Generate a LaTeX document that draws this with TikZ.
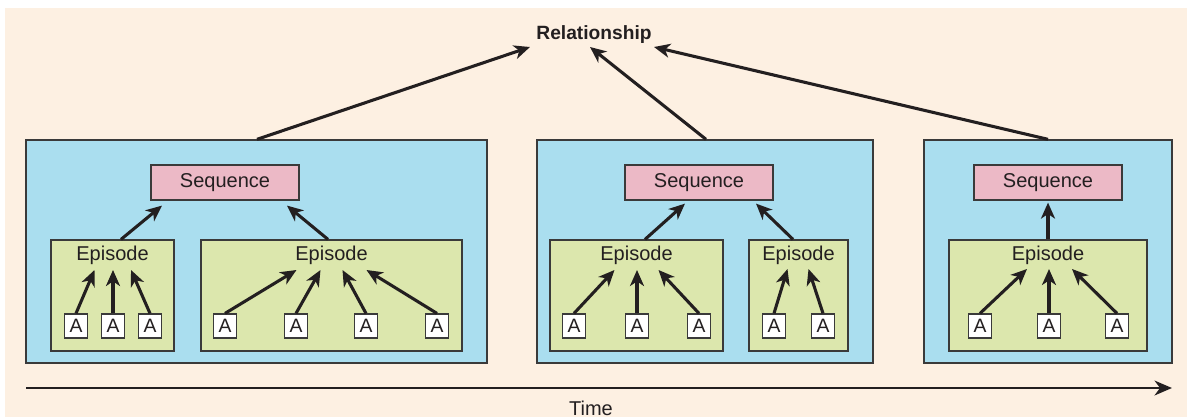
\documentclass[tikz,border=0pt]{standalone}
\usepackage{fontspec}
\setmainfont{Liberation Sans}
\usetikzlibrary{arrows.meta,calc}
\definecolor{cream}{HTML}{FDF0E2}
\definecolor{skyfill}{HTML}{AADEEF}
\definecolor{pinkfill}{HTML}{ECB9C6}
\definecolor{greenfill}{HTML}{DCE7AD}
\definecolor{ink}{HTML}{231F20}
\definecolor{edge}{HTML}{3A3A3A}
\def\u{0.75pt}
\tikzset{
  txt/.style={font=\fontsize{15}{18}\selectfont, text=ink, inner sep=0pt},
  levelbox/.style={draw=edge, line width=1pt, fill=skyfill, inner sep=0pt, minimum height=223*\u},
  seqbox/.style={draw=edge, line width=0.9pt, fill=pinkfill, inner sep=0pt, minimum width=148*\u, minimum height=35*\u, txt},
  epbox/.style={draw=edge, line width=0.9pt, fill=greenfill, inner sep=0pt, minimum height=111*\u},
  abox/.style={draw=edge, line width=0.9pt, fill=white, inner sep=0pt, minimum width=23*\u, minimum height=24*\u, txt, font=\fontsize{14.5}{16}\selectfont},
  arr/.style={draw=ink, line width=2.3pt, -{Stealth[length=12pt,width=10.5pt,inset=3.5pt]}},
}
\begin{document}
\begin{tikzpicture}[x=0.75pt,y=-0.75pt]
\useasboundingbox (0,0) rectangle (1187,417);
\fill[cream] (5,8) rectangle (1187,417);

% top level
\node[txt, font=\bfseries\fontsize{14.4}{17}\selectfont] (rel) at (594,35) {Relationship};

% three sequence panels
\node[levelbox, minimum width=461*\u] (p1) at (256.5,251.5) {};
\node[levelbox, minimum width=336*\u] (p2) at (705,251.5) {};
\node[levelbox, minimum width=248*\u] (p3) at (1048,251.5) {};

\node[seqbox] (s1) at (225,182.5) {Sequence};
\node[seqbox] (s2) at (699,182.5) {Sequence};
\node[seqbox] (s3) at (1048,182.5) {Sequence};

% episode boxes and their labels
\node[epbox, minimum width=123*\u] (e1a) at (112.5,295.5) {};
\node[epbox, minimum width=261*\u] (e1b) at (331.5,295.5) {};
\node[epbox, minimum width=173*\u] (e2a) at (636.5,295.5) {};
\node[epbox, minimum width=99*\u]  (e2b) at (798.5,295.5) {};
\node[epbox, minimum width=198*\u] (e3)  at (1048,295.5) {};

\node[txt] (l1a) at (112.5,255) {Episode};
\node[txt] (l1b) at (331.5,255) {Episode};
\node[txt] (l2a) at (636.5,255) {Episode};
\node[txt] (l2b) at (798.5,255) {Episode};
\node[txt] (l3)  at (1048,255) {Episode};

% actions
\foreach \n/\x in {a1/76, a2/113, a3/150,
                   b1/225, b2/296, b3/366, b4/437,
                   c1/574, c2/637, c3/699,
                   d1/774, d2/823,
                   f1/980, f2/1049, f3/1117}
  \node[abox] (\n) at (\x,326) {A};

% actions -> episodes
\draw[arr] (a1.north) -- ($(l1a)+(-18,15)$);
\draw[arr] (a2.north) -- ($(l1a)+(0.5,15)$);
\draw[arr] (a3.north) -- ($(l1a)+(18.5,15)$);

\draw[arr] (b1.north) -- ($(l1b)+(-35,15)$);
\draw[arr] (b2.north) -- ($(l1b)+(-11,15)$);
\draw[arr] (b3.north) -- ($(l1b)+(11,15)$);
\draw[arr] (b4.north) -- ($(l1b)+(35,15)$);

\draw[arr] (c1.north) -- ($(l2a)+(-22,15)$);
\draw[arr] (c2.north) -- ($(l2a)+(0.5,15)$);
\draw[arr] (c3.north) -- ($(l2a)+(22,15)$);

\draw[arr] (d1.north) -- ($(l2b)+(-11,14)$);
\draw[arr] (d2.north) -- ($(l2b)+(10,14)$);

\draw[arr] (f1.north) -- ($(l3)+(-21,14)$);
\draw[arr] (f2.north) -- ($(l3)+(1,14)$);
\draw[arr] (f3.north) -- ($(l3)+(24,14)$);

% episodes -> sequences
\draw[arr] ($(e1a.north)+(8.5,0)$) -- ($(s1.south)+(-63,5)$);
\draw[arr] ($(e1b.north)+(-3.5,0)$) -- ($(s1.south)+(62,5)$);
\draw[arr] ($(e2a.north)+(8.5,0)$) -- ($(s2.south)+(-14,3)$);
\draw[arr] ($(e2b.north)+(-5.5,0)$) -- ($(s2.south)+(57,3)$);
\draw[arr] (e3.north) -- ($(s3.south)+(0,2)$);

% sequences -> relationship
\draw[arr] ($(p1.north)+(0.5,0)$) -- ($(rel)+(-64,12)$);
\draw[arr] ($(p2.north)+(1,0)$) -- ($(rel)+(-4,12)$);
\draw[arr] (p3.north) -- ($(rel)+(60,12)$);

% time axis
\coordinate (t0) at (26,388);
\coordinate (t1) at (1172,388);
\draw[draw=ink, line width=2.2pt, -{Stealth[length=13pt,width=11pt,inset=4pt]}] (t0) -- (t1);
\node[txt] (time) at (591,408) {Time};
\end{tikzpicture}
\end{document}
